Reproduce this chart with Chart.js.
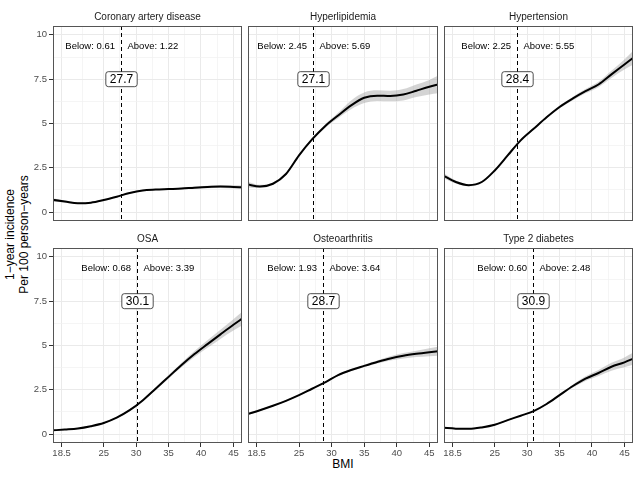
<!DOCTYPE html>
<html>
<head>
<meta charset="utf-8">
<script src="https://cdn.jsdelivr.net/npm/chart.js@4.4.0/dist/chart.umd.min.js"></script>
<style>
  body { margin: 0; width: 640px; height: 480px; background: #fff; position: relative; overflow: hidden;
         font-family: "Liberation Sans", Arial, sans-serif; }
  canvas { position: absolute; }
  #ytitle { position: absolute; width: 220px; left: -92.7px; top: 221px; height: 27px; line-height: 13.5px;
            font-size: 12px; text-align: center; transform: rotate(-90deg); color: #000; white-space: nowrap; }
  #xtitle { position: absolute; width: 100px; left: 293px; top: 457px; line-height: 14px; font-size: 12px;
            text-align: center; color: #000; }
</style>
</head>
<body>
<div id="ytitle">1−year incidence<br>Per 100 person−years</div>
<div id="xtitle">BMI</div>
<script>
// data
const bmi = [17, 19, 21, 23, 25, 27, 29, 31, 33, 35, 37, 39, 41, 43, 45, 46.5];

const panels = ['Coronary artery disease', 'Hyperlipidemia', 'Hypertension', 'OSA', 'Osteoarthritis', 'Type 2 diabetes'];
const cutoffs = [27.7, 27.1, 28.4, 30.1, 28.7, 30.9];
const belowRates = ['0.61', '2.45', '2.25', '0.68', '1.93', '0.60'];
const aboveRates = ['1.22', '5.69', '5.55', '3.39', '3.64', '2.48'];

const cadFit  = [0.70, 0.60, 0.50, 0.53, 0.68, 0.87, 1.08, 1.22, 1.27, 1.30, 1.33, 1.38, 1.42, 1.44, 1.42, 1.40];
const cadLow  = [0.60, 0.54, 0.46, 0.49, 0.64, 0.83, 1.04, 1.18, 1.23, 1.26, 1.28, 1.32, 1.35, 1.36, 1.33, 1.30];
const cadHigh = [0.80, 0.66, 0.54, 0.57, 0.72, 0.91, 1.12, 1.26, 1.31, 1.34, 1.38, 1.44, 1.49, 1.52, 1.51, 1.50];

const hldFit  = [1.57, 1.45, 1.60, 2.15, 3.20, 4.10, 4.85, 5.45, 6.02, 6.45, 6.57, 6.55, 6.63, 6.85, 7.07, 7.22];
const hldLow  = [1.40, 1.36, 1.53, 2.08, 3.12, 4.02, 4.75, 5.30, 5.80, 6.15, 6.27, 6.25, 6.30, 6.50, 6.64, 6.72];
const hldHigh = [1.74, 1.54, 1.67, 2.22, 3.28, 4.18, 4.95, 5.60, 6.30, 6.75, 6.87, 6.85, 6.94, 7.20, 7.46, 7.72];

const htnFit  = [2.08, 1.70, 1.52, 1.70, 2.35, 3.20, 4.05, 4.70, 5.35, 5.93, 6.40, 6.82, 7.20, 7.77, 8.33, 8.75];
const htnLow  = [1.93, 1.62, 1.46, 1.65, 2.30, 3.15, 4.00, 4.65, 5.29, 5.85, 6.30, 6.70, 7.05, 7.57, 8.05, 8.35];
const htnHigh = [2.23, 1.78, 1.58, 1.75, 2.40, 3.25, 4.10, 4.75, 5.41, 6.01, 6.50, 6.94, 7.35, 7.97, 8.61, 9.15];

const osaFit  = [0.21, 0.26, 0.32, 0.45, 0.63, 0.93, 1.35, 1.90, 2.56, 3.23, 3.90, 4.52, 5.08, 5.63, 6.17, 6.55];
const osaLow  = [0.17, 0.23, 0.29, 0.42, 0.60, 0.90, 1.31, 1.85, 2.49, 3.13, 3.77, 4.35, 4.87, 5.37, 5.84, 6.16];
const osaHigh = [0.25, 0.29, 0.35, 0.48, 0.66, 0.96, 1.39, 1.95, 2.63, 3.33, 4.03, 4.69, 5.29, 5.89, 6.48, 6.94];

const oaFit   = [1.12, 1.35, 1.60, 1.88, 2.20, 2.56, 2.92, 3.33, 3.62, 3.85, 4.07, 4.27, 4.42, 4.53, 4.62, 4.68];
const oaLow   = [1.05, 1.30, 1.56, 1.84, 2.16, 2.52, 2.88, 3.28, 3.56, 3.78, 3.98, 4.15, 4.27, 4.35, 4.40, 4.42];
const oaHigh  = [1.19, 1.40, 1.64, 1.92, 2.24, 2.60, 2.96, 3.38, 3.68, 3.92, 4.16, 4.39, 4.57, 4.71, 4.84, 4.94];

const t2dFit  = [0.36, 0.31, 0.30, 0.38, 0.53, 0.79, 1.04, 1.30, 1.70, 2.20, 2.70, 3.13, 3.45, 3.80, 4.05, 4.28];
const t2dLow  = [0.31, 0.28, 0.27, 0.35, 0.50, 0.76, 1.01, 1.26, 1.65, 2.14, 2.61, 3.00, 3.28, 3.58, 3.77, 3.94];
const t2dHigh = [0.41, 0.34, 0.33, 0.41, 0.56, 0.82, 1.07, 1.34, 1.75, 2.26, 2.79, 3.26, 3.62, 4.02, 4.33, 4.62];

const fits  = [cadFit, hldFit, htnFit, osaFit, oaFit, t2dFit];
const lows  = [cadLow, hldLow, htnLow, osaLow, oaLow, t2dLow];
const highs = [cadHigh, hldHigh, htnHigh, osaHigh, oaHigh, t2dHigh];

const xTickValues = [18.5, 25, 30, 35, 40, 45];
const xTickLabels = ['18.5', '25', '30', '35', '40', '45'];
const xMinorValues = [21.75, 27.5, 32.5, 37.5, 42.5];
const yTickValues = [0, 2.5, 5, 7.5, 10];
const yTickLabels = ['0', '2.5', '5', '7.5', '10'];
const yMinorValues = [1.25, 3.75, 6.25, 8.75];

const FONT = '"Liberation Sans", Arial, sans-serif';
Chart.defaults.font.family = FONT;

// panel geometry (page pixels)
const colLeft = [53, 248, 444];
const colWidth = [189, 190, 189];
const rowTop = [26, 248];
const panelH = 195;
const stripH = 22;
const yAxisW = 53;
const xAxisH = 22;

function tickList(major, labels, minor) {
  const out = major.map((v, i) => ({ value: v, lbl: labels[i], minor: false }));
  minor.forEach(v => out.push({ value: v, lbl: '', minor: true }));
  return out.sort((a, b) => a.value - b.value);
}

const gridOpts = {
  color: c => (c.tick && c.tick.minor) ? '#F0F0F0' : '#EAEAEA',
  lineWidth: c => (c.tick && c.tick.minor) ? 0.7 : 1,
  tickColor: c => (c.tick && c.tick.minor) ? 'rgba(0,0,0,0)' : '#333333',
  tickLength: 4
};

const cutoffPlugin = {
  id: 'cutoff',
  afterDatasetsDraw(chart, args, o) {
    const ctx = chart.ctx;
    const area = chart.chartArea;
    const xs = chart.scales.x, ys = chart.scales.y;
    const x = Math.round(xs.getPixelForValue(o.value)) + 0.5;
    ctx.save();
    ctx.strokeStyle = '#000';
    ctx.lineWidth = 1;
    ctx.setLineDash([4, 3]);
    ctx.beginPath();
    ctx.moveTo(x, area.top);
    ctx.lineTo(x, area.bottom);
    ctx.stroke();
    ctx.setLineDash([]);

    const ty = ys.getPixelForValue(o.textY);
    ctx.font = '9.5px ' + FONT;
    ctx.fillStyle = '#000';
    ctx.textBaseline = 'middle';
    ctx.textAlign = 'right';
    ctx.fillText('Below: ' + o.below, x - 6.5, ty);
    ctx.textAlign = 'left';
    ctx.fillText('Above: ' + o.above, x + 6, ty);

    const ly = ys.getPixelForValue(o.labelY);
    const txt = o.value.toFixed(1);
    ctx.font = '12px ' + FONT;
    const w = ctx.measureText(txt).width + 8, h = 15;
    ctx.beginPath();
    ctx.roundRect(x - w / 2, ly - h / 2, w, h, 2.5);
    ctx.fillStyle = '#fff';
    ctx.fill();
    ctx.strokeStyle = '#222';
    ctx.lineWidth = 0.8;
    ctx.stroke();
    ctx.fillStyle = '#000';
    ctx.textAlign = 'center';
    ctx.fillText(txt, x, ly + 0.5);
    ctx.restore();
  }
};

const borderPlugin = {
  id: 'panelBorder',
  afterDraw(chart) {
    const a = chart.chartArea, ctx = chart.ctx;
    ctx.save();
    ctx.strokeStyle = '#555555';
    ctx.lineWidth = 1;
    ctx.strokeRect(a.left + 0.5, a.top + 0.5, a.right - a.left - 1, a.bottom - a.top - 1);
    ctx.restore();
  }
};

panels.forEach((name, i) => {
  const r = Math.floor(i / 3), c = i % 3;
  const leftAxis = c === 0, bottomAxis = r === 1;
  const canvasLeft = leftAxis ? colLeft[c] - yAxisW : colLeft[c] - 1;
  const canvasTop = rowTop[r] - stripH;
  const width = (colLeft[c] - canvasLeft) + colWidth[c] + 1;
  const height = stripH + panelH + (bottomAxis ? xAxisH : 1);

  const cv = document.createElement('canvas');
  cv.width = width; cv.height = height;
  cv.style.left = canvasLeft + 'px'; cv.style.top = canvasTop + 'px';
  cv.style.width = width + 'px'; cv.style.height = height + 'px';
  document.body.appendChild(cv);

  const pts = arr => bmi.map((b, k) => ({ x: b, y: arr[k] }));

  new Chart(cv.getContext('2d'), {
    type: 'line',
    data: {
      datasets: [
        { data: pts(lows[i]), borderWidth: 0, pointRadius: 0, fill: false, order: 1,
          cubicInterpolationMode: 'monotone' },
        { data: pts(highs[i]), borderWidth: 0, pointRadius: 0, fill: '-1', order: 1,
          backgroundColor: 'rgba(153,153,153,0.42)', cubicInterpolationMode: 'monotone' },
        { data: pts(fits[i]), borderColor: '#000', borderWidth: 2, pointRadius: 0, fill: false, order: 0,
          cubicInterpolationMode: 'monotone' }
      ]
    },
    options: {
      responsive: false,
      animation: false,
      devicePixelRatio: 1,
      layout: { padding: { left: leftAxis ? 0 : 1, right: 1, top: 0, bottom: bottomAxis ? 0 : 1 } },
      events: [],
      plugins: {
        legend: { display: false },
        tooltip: { enabled: false },
        title: { display: true, text: name, fullSize: false, color: '#1A1A1A',
                 font: { size: 10, weight: 'normal', lineHeight: '14px' }, padding: { top: 6, bottom: 2 } },
        cutoff: { value: cutoffs[i], below: belowRates[i], above: aboveRates[i], textY: 9.35, labelY: 7.5 }
      },
      scales: {
        x: {
          type: 'linear', min: 17.175, max: 46.325, bounds: 'data',
          afterBuildTicks: s => { s.ticks = tickList(xTickValues, xTickLabels, xMinorValues); },
          afterFit: s => { s.height = bottomAxis ? xAxisH : 0; s.paddingLeft = 0; s.paddingRight = 0; },
          ticks: { display: bottomAxis, autoSkip: false, maxRotation: 0, minRotation: 0, padding: 1,
                   color: '#4D4D4D', font: { size: 9.5 },
                   callback: (v, k, t) => t[k].lbl },
          grid: Object.assign({ drawTicks: bottomAxis }, gridOpts),
          border: { display: false }
        },
        y: {
          type: 'linear', min: -0.5, max: 10.5, bounds: 'data',
          afterBuildTicks: s => { s.ticks = tickList(yTickValues, yTickLabels, yMinorValues); },
          afterFit: s => { s.width = leftAxis ? yAxisW : 0; s.paddingTop = 0; s.paddingBottom = 0; },
          ticks: { display: leftAxis, autoSkip: false, padding: 2,
                   color: '#4D4D4D', font: { size: 9.5 },
                   callback: (v, k, t) => t[k].lbl },
          grid: Object.assign({ drawTicks: leftAxis }, gridOpts),
          border: { display: false }
        }
      }
    },
    plugins: [cutoffPlugin, borderPlugin]
  });
});
</script>
</body>
</html>
